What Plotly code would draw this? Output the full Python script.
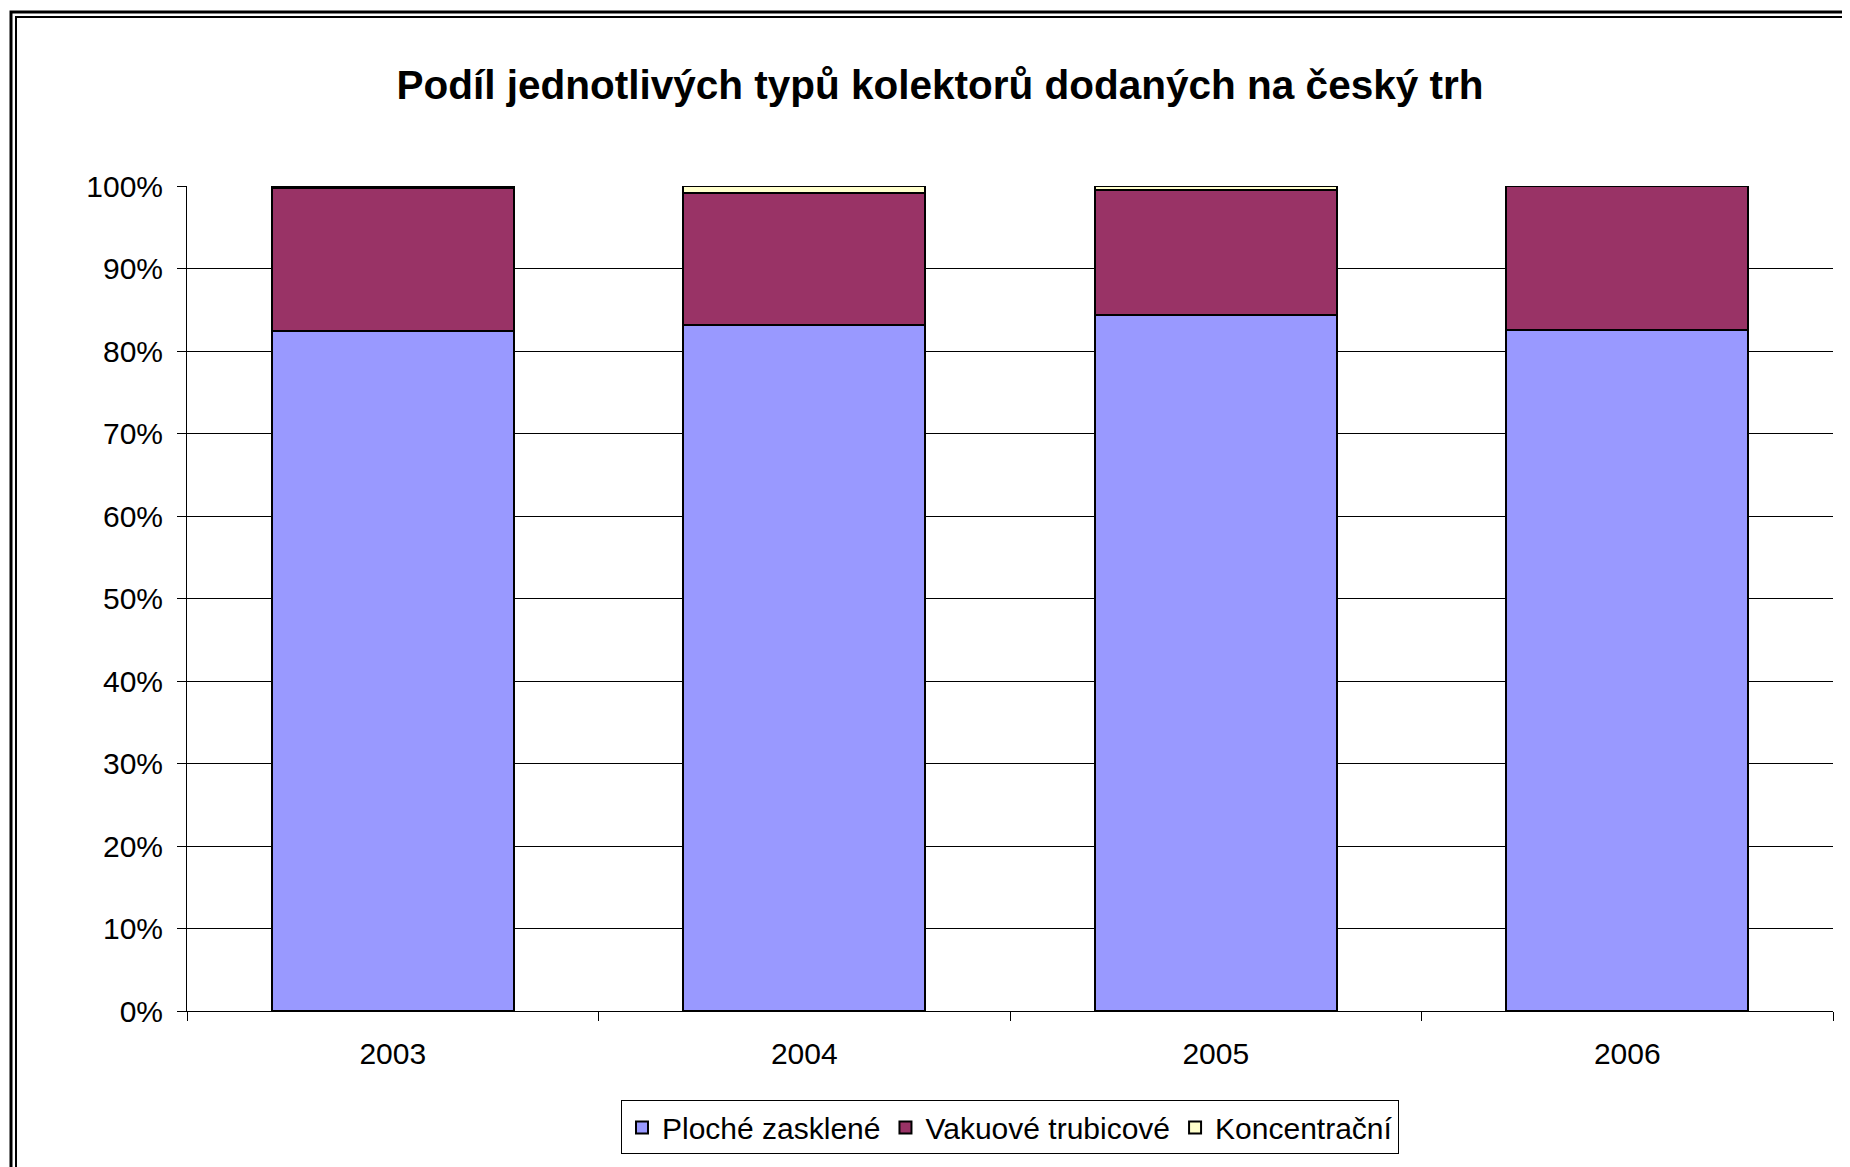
import plotly.graph_objects as go

years = ["2003", "2004", "2005", "2006"]
ploche = [82.4, 83.1, 84.4, 82.5]
vakuove = [17.3, 16.0, 15.1, 17.5]
koncentracni = [0.3, 0.9, 0.5, 0.0]
series_names = ["Ploché zasklené", "Vakuové trubicové", "Koncentrační"]
colors = ["#9999FF", "#993366", "#FFFFCC"]
title_text = "Podíl jednotlivých typů kolektorů dodaných na český trh"

OFF = 8  # page body margin
W, H = 1850 - OFF, 1167 - OFF
# target screen positions minus offset
L, R, T, B = 187 - OFF, 1833 - OFF, 186 - OFF, 1016 - OFF
FONT = "Liberation Sans, Arial, sans-serif"

def px_x(x):
    return (x - OFF - L) / (R - L)

def px_y(y):
    return (B - (y - OFF)) / (B - T)

fig = go.Figure()
for name, vals, col in zip(series_names, [ploche, vakuove, koncentracni], colors):
    fig.add_trace(go.Bar(
        x=years, y=vals, name=name,
        marker=dict(color=col, line=dict(color="black", width=2)),
    ))

shapes = [
    dict(type="rect", xref="paper", yref="paper",
         x0=px_x(11), x1=px_x(1950), y0=px_y(1300), y1=px_y(11),
         line=dict(color="black", width=3), fillcolor="rgba(0,0,0,0)"),
    dict(type="rect", xref="paper", yref="paper",
         x0=px_x(16), x1=px_x(1950), y0=px_y(1300), y1=px_y(16),
         line=dict(color="black", width=2), fillcolor="rgba(0,0,0,0)"),
]

fig.update_layout(
    width=W, height=H,
    margin=dict(l=L, r=W - R, t=T, b=H - B, pad=0),
    paper_bgcolor="white", plot_bgcolor="white",
    barmode="stack", bargap=0.412,
    font=dict(family=FONT, size=30, color="black"),
    title=dict(text=title_text, x=(940 - OFF) / W, xanchor="center", xref="container",
               y=1 - (85 - OFF) / H, yanchor="middle", yref="container",
               font=dict(family=FONT, size=40.5, color="black", weight="bold")),
    xaxis=dict(showline=True, linecolor="black", linewidth=1,
               ticks="outside", tickson="boundaries", ticklen=9, tickcolor="black",
               tickfont=dict(size=30), showgrid=False, ticklabelstandoff=16),
    yaxis=dict(range=[0, 100], dtick=10, ticksuffix="%",
               showline=True, linecolor="black", linewidth=1,
               ticks="outside", ticklen=9, tickcolor="black",
               showgrid=True, gridcolor="black", gridwidth=1,
               zeroline=False, tickfont=dict(size=30), ticklabelstandoff=8),
    legend=dict(orientation="h", x=0.5, xanchor="center", y=px_y(1106), yanchor="top",
                bgcolor="white", bordercolor="black", borderwidth=1,
                font=dict(size=30), itemwidth=30, traceorder="normal"),
    shapes=shapes,
    showlegend=True,
)

fig.write_html("out.html")
